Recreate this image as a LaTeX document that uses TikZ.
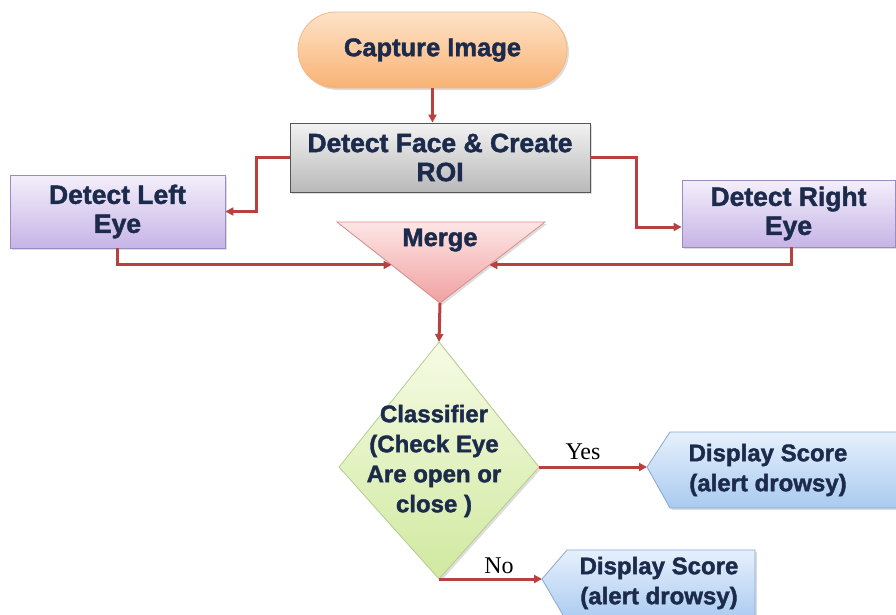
\documentclass[tikz,border=0pt]{standalone}
\usepackage{fontspec}
\setmainfont{Liberation Sans}[BoldFeatures={FakeBold=1.6}]
\newfontfamily\serifl{Liberation Serif}
\usetikzlibrary{arrows.meta,calc,shadows}
\definecolor{txt}{HTML}{1C2B4C}
\definecolor{arr}{HTML}{B8403F}
\definecolor{capT}{HTML}{FEE3C8}
\definecolor{capB}{HTML}{F8B274}
\definecolor{capD}{HTML}{F2B888}
\definecolor{roiT}{HTML}{F2F2F2}
\definecolor{roiB}{HTML}{B9B9B9}
\definecolor{roiD}{HTML}{555555}
\definecolor{eyeT}{HTML}{F4EFFB}
\definecolor{eyeB}{HTML}{C6B4E6}
\definecolor{eyeD}{HTML}{9A8CBF}
\definecolor{mrgT}{HTML}{FDE6E6}
\definecolor{mrgB}{HTML}{F1A0A0}
\definecolor{mrgD}{HTML}{D98C8C}
\definecolor{clsT}{HTML}{F6FBE4}
\definecolor{clsB}{HTML}{D0E9A0}
\definecolor{clsD}{HTML}{B4CC8C}
\definecolor{dsT}{HTML}{E6F0FC}
\definecolor{dsB}{HTML}{A9CAF0}
\definecolor{dsD}{HTML}{86A8D2}
\begin{document}
\begin{tikzpicture}[x=1pt,y=-1pt,
  lbl/.style={font=\bfseries, text=txt, align=center, inner sep=0pt},
  fA/.style={font=\fontsize{26.5}{29}\selectfont\bfseries},
  fB/.style={font=\fontsize{25.5}{29}\selectfont\bfseries},
  fC/.style={font=\fontsize{24}{30}\selectfont\bfseries},
  yn/.style={font=\fontsize{24}{26}\selectfont\serifl, text=black, inner sep=0pt},
  conn/.style={draw=arr, line width=3pt, -{Triangle[length=8pt,width=8pt]}},
  shd/.style={drop shadow={opacity=0.22,shadow xshift=2pt,shadow yshift=-2pt,fill=black!60}},
  box/.style={lbl, shd, line width=0.8pt}
]
\useasboundingbox (0,0) rectangle (896,614);
\clip (0,0) rectangle (896,614);

% Capture image
\node[box, fB, rounded corners=38pt, minimum width=269pt, minimum height=76pt,
      top color=capT, bottom color=capB, draw=capD] (cap) at (432.5,50) {Capture Image};

% Detect face & ROI
\node[box, fA, minimum width=300pt, minimum height=69pt,
      top color=roiT, bottom color=roiB, draw=roiD] (roi) at (440,157.5) {Detect Face \& Create\\ROI};

% Eyes
\node[box, fA, minimum width=215pt, minimum height=73pt,
      top color=eyeT, bottom color=eyeB, draw=eyeD] (left) at (117.5,211.5) {Detect Left\\Eye};
\node[box, fA, minimum width=213pt, minimum height=67pt,
      top color=eyeT, bottom color=eyeB, draw=eyeD] (right) at (788.5,213.5) {Detect Right\\Eye};

% Merge triangle
\coordinate (mL) at (337,222);
\coordinate (mR) at (545,222);
\coordinate (mB) at (440,303);
\path[shd, top color=mrgT, bottom color=mrgB, draw=mrgD, line width=0.8pt] (mL) -- (mR) -- (mB) -- cycle;
\node[lbl, fB] (merge) at (440,240) {Merge};

% Classifier diamond
\coordinate (dT) at (439,342);
\coordinate (dR) at (539,467);
\coordinate (dB) at (439,579);
\coordinate (dL) at (339,467);
\path[shd, top color=clsT, bottom color=clsB, draw=clsD, line width=0.8pt] (dT) -- (dR) -- (dB) -- (dL) -- cycle;
\node[lbl, fC] (cls) at (434,461) {Classifier\\(Check Eye\\Are open or\\close )};

% Display score 1
\coordinate (p1) at (647,467);
\path[shd, top color=dsT, bottom color=dsB, draw=dsD, line width=0.8pt]
  (p1) -- (670,432) -- (897,432) -- (897,508) -- (670,508) -- cycle;
\node[lbl, fC] (ds1) at (768,470) {Display Score\\(alert drowsy)};

% Display score 2
\coordinate (p2) at (542,579);
\path[shd, top color=dsT, bottom color=dsB, draw=dsD, line width=0.8pt]
  (p2) -- (567,550) -- (755,550) -- (755,622) -- (567,622) -- cycle;
\node[lbl, fC] (ds2) at (659,583) {Display Score\\(alert drowsy)};

% Connectors
\draw[conn] (cap.south) -- (cap.south |- roi.north);
\draw[conn] (roi.west) -- ++(-33,0) |- (left.east);
\draw[conn] (roi.east) -- ++(46,0) |- ($(right.west)+(0,13.5)$);
\coordinate (mLin) at ($(mL)!0.53!(mB)$);
\coordinate (mRin) at ($(mR)!0.53!(mB)$);
\draw[conn] (left.south) |- (mLin);
\draw[conn] ($(right.south)+(2.5,0)$) |- (mRin);
\draw[conn] (mB) -- (dT);
\draw[conn] (dR) -- (p1);
\draw[conn] (dB) -- (p2);

% Labels
\node[yn] (yes) at (583,452) {Yes};
\node[yn] (no) at (499,566) {No};
\end{tikzpicture}
\end{document}
